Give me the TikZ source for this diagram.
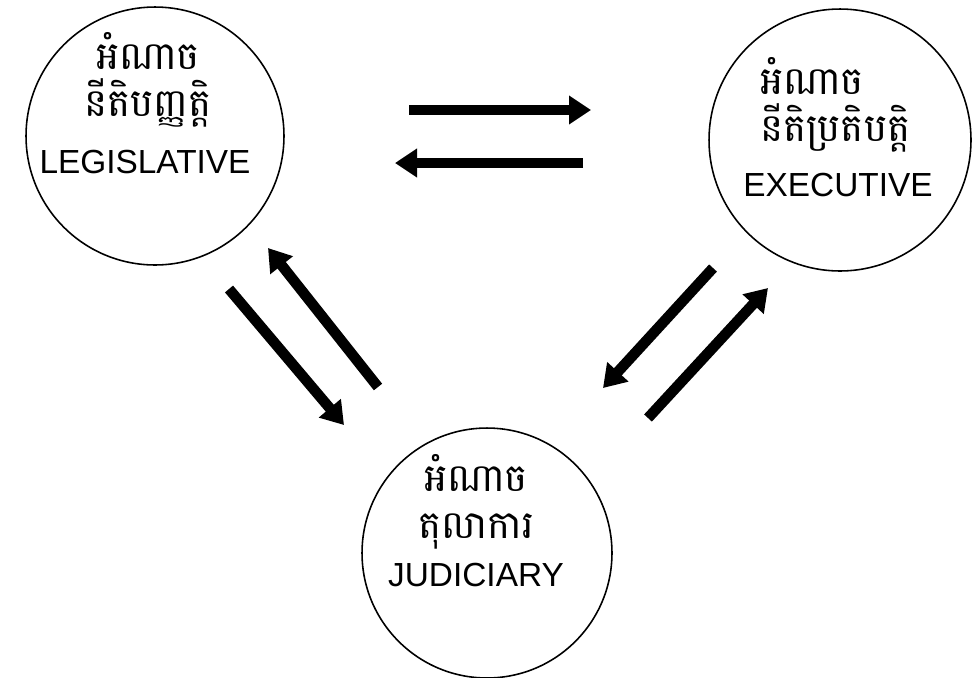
\documentclass[tikz,border=0pt]{standalone}
\usepackage{fontspec}
\newfontfamily\khmerfont[Script=Khmer]{Battambang}
\newfontfamily\engfont{Liberation Sans}
\usetikzlibrary{arrows.meta}
\begin{document}
\begin{tikzpicture}[x=0.02cm,y=-0.02cm]
\tikzset{
  branch/.style={circle, draw=black, line width=0.9pt, minimum size=#1, inner sep=0pt},
  khm/.style={font=\khmerfont\fontsize{22}{27}\selectfont, inner sep=0pt, align=center},
  eng/.style={font=\engfont\fontsize{19}{22}\selectfont, inner sep=0pt},
  powerarrow/.style={line width=6pt, draw=black, -{Triangle[width=0.55cm,length=0.44cm]}}
}
\useasboundingbox (0,0) rectangle (980,677);
% circles
\node[branch=5.16cm] (leg) at (155,136) {};
\node[branch=5.24cm] (exe) at (840,140) {};
\node[branch=5.0cm] (jud) at (487,553) {};
% texts
\node[khm] (legk) at (148,80) {អំណាច\\នីតិបញ្ញត្តិ};
\node[eng] (lege) at (145,162) {LEGISLATIVE};
\node[khm, align=left, anchor=west] (exek) at (760,105) {អំណាច\\នីតិប្រតិបត្តិ};
\node[eng] (exee) at (838,185) {EXECUTIVE};
\node[khm] (judk) at (476,502) {អំណាច\\តុលាការ};
\node[eng] (jude) at (476,575) {JUDICIARY};
% arrow end points
\coordinate (a1s) at (409,110); \coordinate (a1e) at (591,110);
\coordinate (a2s) at (583,163); \coordinate (a2e) at (395,163);
\coordinate (a3s) at (229,289); \coordinate (a3e) at (344,425);
\coordinate (a4s) at (378,387); \coordinate (a4e) at (268,248);
\coordinate (a5s) at (713,268); \coordinate (a5e) at (603,388);
\coordinate (a6s) at (648,418); \coordinate (a6e) at (768,288);
\draw[powerarrow] (a1s) -- (a1e);
\draw[powerarrow] (a2s) -- (a2e);
\draw[powerarrow] (a3s) -- (a3e);
\draw[powerarrow] (a4s) -- (a4e);
\draw[powerarrow] (a5s) -- (a5e);
\draw[powerarrow] (a6s) -- (a6e);
\end{tikzpicture}
\end{document}
